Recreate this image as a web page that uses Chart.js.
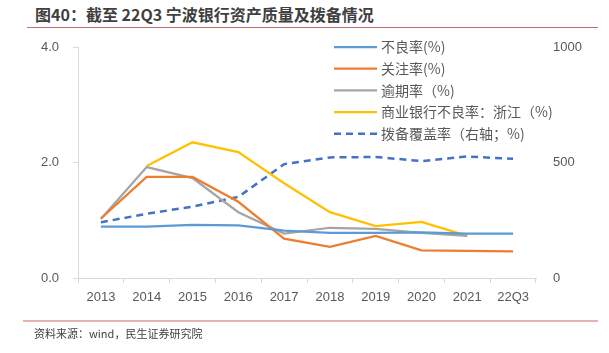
<!DOCTYPE html>
<html>
<head>
<meta charset="utf-8">
<script src="https://cdn.jsdelivr.net/npm/chart.js@4/dist/chart.umd.min.js"></script>
<style>
  body { margin: 0; background: #fff; }
  #wrap { position: relative; width: 609px; height: 353px; overflow: hidden; font-family: "Noto Sans CJK SC", "Noto Sans", sans-serif; }
  #title { position: absolute; left: 35px; top: 2px; font-size: 16px; font-weight: bold; color: #3f3f3f; white-space: nowrap; }
  #topLine { position: absolute; left: 27px; top: 27px; width: 571px; height: 1px; background: #c0706e; }
  #bottomLine { position: absolute; left: 23px; top: 320px; width: 575px; height: 2px; background: #eab0ae; }
  #source { position: absolute; left: 34px; top: 325px; font-size: 11px; color: #404040; white-space: nowrap; }
  #chartBox { position: absolute; left: 0; top: 0; width: 609px; height: 353px; }
</style>
</head>
<body>
<div id="wrap">
  <div id="title">图40：截至 22Q3 宁波银行资产质量及拨备情况</div>
  <div id="topLine"></div>
  <div id="chartBox"><canvas id="chart" width="609" height="353"></canvas></div>
  <div id="bottomLine"></div>
  <div id="source">资料来源：wind，民生证券研究院</div>
</div>
<script>
// Data
const years = ['2013', '2014', '2015', '2016', '2017', '2018', '2019', '2020', '2021', '22Q3'];
const nplRatio = [0.89, 0.89, 0.92, 0.91, 0.82, 0.78, 0.78, 0.79, 0.77, 0.77];
const specialMention = [1.03, 1.75, 1.75, 1.32, 0.68, 0.54, 0.73, 0.48, 0.47, 0.46];
const overdueRatio = [1.02, 1.92, 1.73, 1.14, 0.77, 0.87, 0.85, 0.78, 0.73, null];
const zhejiangNpl = [null, 1.94, 2.35, 2.18, 1.64, 1.14, 0.90, 0.97, 0.73, null];
const coverage = [241, 278, 309, 351, 493, 522, 524, 506, 526, 516];
const leftTicks = [0, 2, 4];
const rightTicks = [0, 500, 1000];

const labelColor = '#595959';
const axisColor = '#d9d9d9';

// legend drawn inside the plot, top right
const legendPlugin = {
    id: 'boxLegend',
    afterDraw(chart) {
        const ctx = chart.ctx;
        const x0 = 334, y0 = 47, rowH = 21.7;
        ctx.save();
        ctx.font = '14px "Noto Sans CJK SC", sans-serif';
        ctx.textBaseline = 'middle';
        chart.data.datasets.forEach((ds, i) => {
            const y = y0 + i * rowH;
            ctx.strokeStyle = ds.borderColor;
            ctx.lineWidth = ds.borderWidth;
            ctx.setLineDash(ds.borderDash || []);
            ctx.beginPath();
            ctx.moveTo(x0, y);
            ctx.lineTo(x0 + 43, y);
            ctx.stroke();
            ctx.setLineDash([]);
            ctx.fillStyle = labelColor;
            ctx.fillText(ds.label, x0 + 47, y);
        });
        ctx.restore();
    }
};

const ctx = document.getElementById('chart').getContext('2d');
const chart = new Chart(ctx, {
    type: 'line',
    data: {
        labels: years,
        datasets: [{
            label: '不良率(%)',
            data: nplRatio,
            borderColor: '#5b9bd5',
            borderWidth: 2.25,
            yAxisID: 'y'
        }, {
            label: '关注率(%)',
            data: specialMention,
            borderColor: '#ed7d31',
            borderWidth: 2.25,
            yAxisID: 'y'
        }, {
            label: '逾期率（%)',
            data: overdueRatio,
            borderColor: '#a5a5a5',
            borderWidth: 2.25,
            yAxisID: 'y'
        }, {
            label: '商业银行不良率：浙江（%)',
            data: zhejiangNpl,
            borderColor: '#ffc000',
            borderWidth: 2.25,
            yAxisID: 'y'
        }, {
            label: '拨备覆盖率（右轴；%)',
            data: coverage,
            borderColor: '#4472c4',
            borderWidth: 2.5,
            borderDash: [7, 5],
            yAxisID: 'y1'
        }]
    },
    options: {
        responsive: false,
        animation: false,
        layout: { padding: { top: 47, left: 0, right: 0, bottom: 0 } },
        elements: {
            point: { radius: 0 },
            line: { tension: 0, fill: false, borderCapStyle: 'butt' }
        },
        plugins: {
            legend: { display: false },
            tooltip: { enabled: false }
        },
        scales: {
            x: {
                offset: true,
                grid: { offset: true, drawOnChartArea: false, drawTicks: true, tickLength: 5, color: axisColor },
                border: { display: true, color: axisColor },
                ticks: { color: labelColor, font: { size: 13, family: 'Liberation Sans, sans-serif' }, padding: 7, maxRotation: 0 },
                afterFit(scale) { scale.height = 75; }
            },
            y: {
                position: 'left',
                min: 0,
                max: 4,
                afterBuildTicks(scale) { scale.ticks = leftTicks.map(v => ({ value: v })); },
                grid: { drawOnChartArea: false, drawTicks: true, tickLength: 5, color: axisColor },
                border: { display: true, color: axisColor },
                ticks: {
                    color: labelColor,
                    font: { size: 13, family: 'Liberation Sans, sans-serif' },
                    padding: 14,
                    callback: v => v.toFixed(1)
                },
                afterFit(scale) { scale.width = 78; }
            },
            y1: {
                position: 'right',
                min: 0,
                max: 1000,
                afterBuildTicks(scale) { scale.ticks = rightTicks.map(v => ({ value: v })); },
                grid: { display: false, drawTicks: false },
                border: { display: false },
                ticks: {
                    color: labelColor,
                    font: { size: 13, family: 'Liberation Sans, sans-serif' },
                    padding: 17,
                    callback: v => String(v)
                },
                afterFit(scale) { scale.width = 73; }
            }
        }
    },
    plugins: [legendPlugin]
});
</script>
</body>
</html>
